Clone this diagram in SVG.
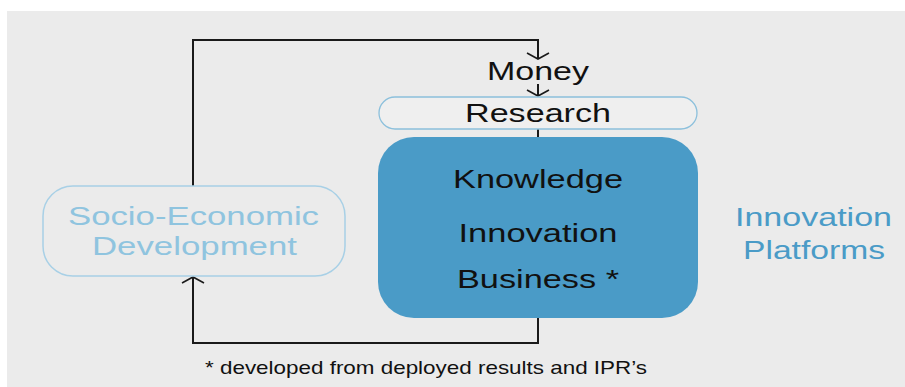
<svg xmlns="http://www.w3.org/2000/svg" width="905" height="387" viewBox="0 0 905 387">
  <style>
    .t { font-family: "Liberation Sans", Arial, sans-serif; text-anchor: middle; }
    .dark { fill: #111111; font-size: 25px; }
    .conn { fill: none; stroke: #1a1a1a; stroke-width: 2; }
    .light { fill: #8fc4df; font-size: 26px; }
    .blue { fill: #4a9bc7; font-size: 26px; }
  </style>
  <defs>
    <marker id="arr" markerUnits="userSpaceOnUse" markerWidth="24" markerHeight="24" refX="0" refY="0" viewBox="-8 -12 10 24" orient="auto" overflow="visible">
      <path d="M-6,-11 L0,0 L-6,11" fill="none" stroke="#1a1a1a" stroke-width="1.6"/>
    </marker>
  </defs>
  <rect x="7" y="11" width="898" height="376" fill="#ebebeb"/>

  <g id="connectors">
    <path class="conn" d="M193,186 V40 H538 V59" marker-end="url(#arr)"/>
    <path class="conn" d="M538,84 V96" marker-end="url(#arr)"/>
    <path class="conn" d="M538,129 V138"/>
    <path class="conn" d="M538,318 V343 H193 V277" marker-end="url(#arr)"/>
  </g>

  <g id="money">
    <text class="t dark" x="538" y="80" textLength="102" lengthAdjust="spacingAndGlyphs">Money</text>
  </g>

  <g id="research">
    <rect x="379" y="97" width="318" height="32" rx="16" fill="#efefef" stroke="#8cc0dc" stroke-width="1.3"/>
    <text class="t dark" x="538" y="122" textLength="146" lengthAdjust="spacingAndGlyphs">Research</text>
  </g>

  <g id="platform">
    <rect x="378" y="137" width="320" height="181" rx="36" fill="#4a9bc7"/>
    <text class="t dark" x="538" y="188" textLength="170" lengthAdjust="spacingAndGlyphs">Knowledge</text>
    <text class="t dark" x="538" y="242" textLength="159" lengthAdjust="spacingAndGlyphs">Innovation</text>
    <text class="t dark" x="538" y="288" textLength="162" lengthAdjust="spacingAndGlyphs">Business *</text>
  </g>

  <g id="socio">
    <rect x="43" y="186" width="302" height="90" rx="30" fill="#ebebeb" stroke="#a8d0e6" stroke-width="1.5"/>
    <text class="t light" x="193.5" y="225" textLength="251" lengthAdjust="spacingAndGlyphs">Socio-Economic</text>
    <text class="t light" x="194.5" y="255" textLength="205" lengthAdjust="spacingAndGlyphs">Development</text>
  </g>

  <g id="innovation-platforms">
    <text class="t blue" x="813.5" y="226" textLength="157" lengthAdjust="spacingAndGlyphs">Innovation</text>
    <text class="t blue" x="814" y="259" textLength="142" lengthAdjust="spacingAndGlyphs">Platforms</text>
  </g>

  <g id="footnote">
    <text class="t" x="426" y="374" font-size="19" fill="#111111" textLength="442" lengthAdjust="spacingAndGlyphs">* developed from deployed results and IPR’s</text>
  </g>
</svg>
